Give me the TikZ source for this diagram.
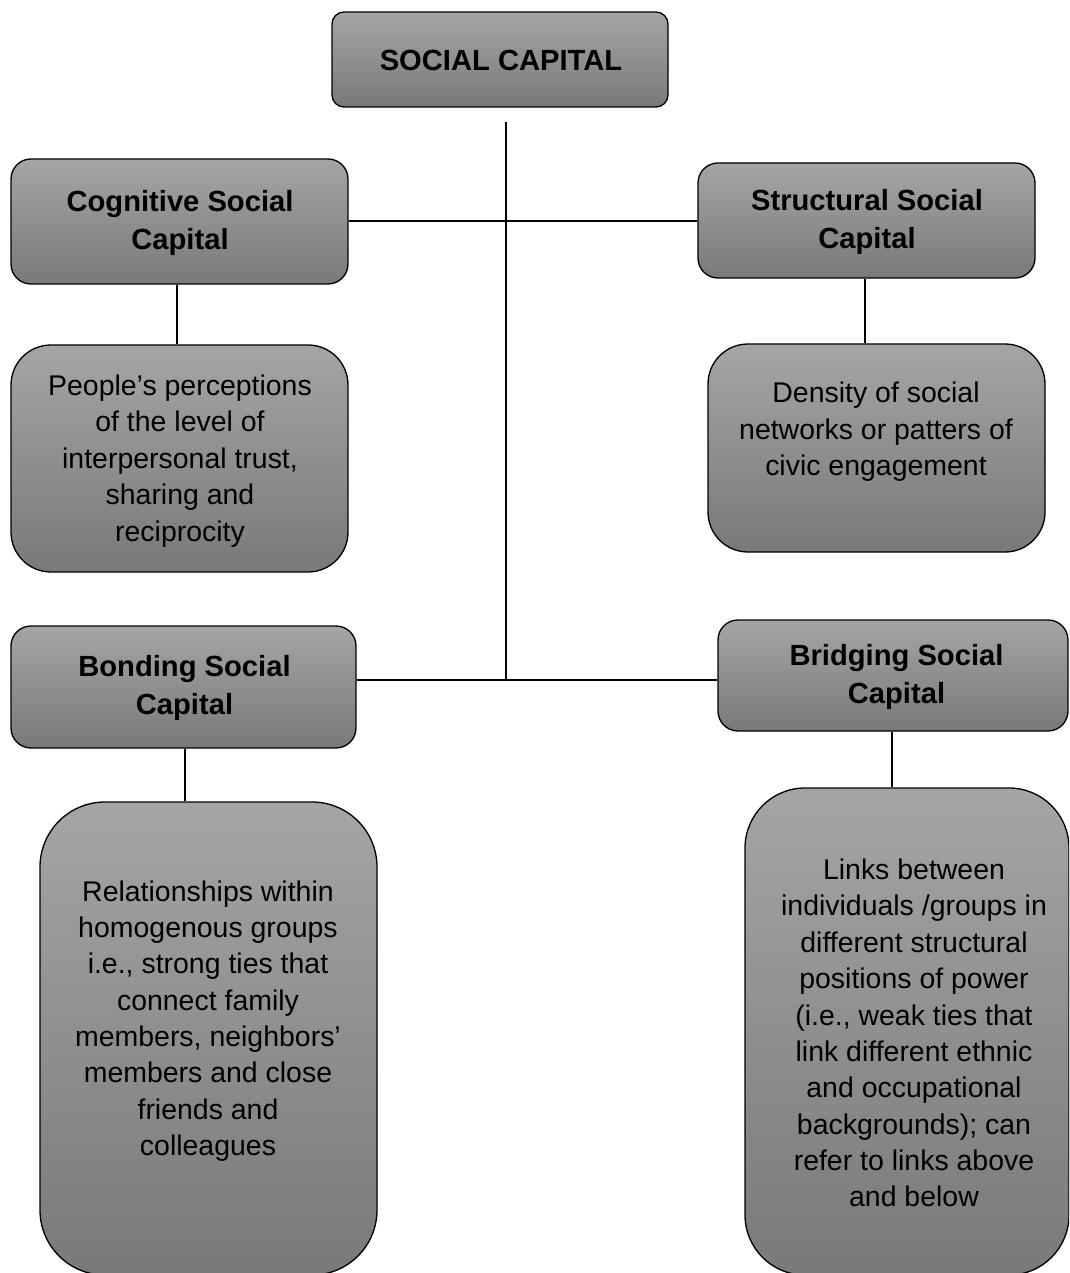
\documentclass[tikz,border=0pt]{standalone}
\usepackage{fontspec}
\setmainfont{Liberation Sans}
\usetikzlibrary{fit}
\definecolor{boxtop}{RGB}{165,165,165}
\definecolor{boxbot}{RGB}{121,121,121}
\tikzset{
  box/.style={draw=black, line width=0.75pt, top color=boxtop, bottom color=boxbot, inner sep=0pt, rectangle},
  headtxt/.style={font=\fontsize{16.6}{22}\selectfont\bfseries, align=center, text=black, inner sep=0pt},
  bodytxt/.style={font=\fontsize{16.2}{20.7}\selectfont, align=center, text=black, inner sep=0pt},
  conn/.style={draw=black, line width=0.75pt}
}
\begin{document}
\begin{tikzpicture}[x=0.02cm, y=-0.02cm]
\useasboundingbox (0,0) rectangle (1069,1273);
\clip (0,0) rectangle (1069,1273);
\fill[white] (0,0) rectangle (1069,1273);

% boxes
\node[box, rounded corners=0.24cm, fit={(332,12) (668,107)}] (sc) {};
\node[box, rounded corners=0.4cm, fit={(11,159) (348,284)}] (cog) {};
\node[box, rounded corners=0.4cm, fit={(698,163) (1035,278)}] (str) {};
\node[box, rounded corners=0.8cm, fit={(11,345) (348,572)}] (perc) {};
\node[box, rounded corners=0.8cm, fit={(708,344) (1045,552)}] (dens) {};
\node[box, rounded corners=0.4cm, fit={(11,626) (356,748)}] (bond) {};
\node[box, rounded corners=0.4cm, fit={(718,620) (1068,731)}] (bridge) {};
\node[box, rounded corners=1.3cm, fit={(40,802) (377,1275)}] (rel) {};
\node[box, rounded corners=1.2cm, fit={(745,788) (1069,1275)}] (links) {};

% texts
\node[headtxt] (scT) at (501,60) {SOCIAL CAPITAL};
\node[headtxt] (cogT) at (180,223) {Cognitive Social\\Capital};
\node[headtxt] (strT) at (867,222) {Structural Social\\Capital};
\node[bodytxt] (percT) at (180,461) {People’s perceptions\\of the level of\\interpersonal trust,\\sharing and\\reciprocity};
\node[bodytxt] (densT) at (876,432) {Density of social\\networks or patters of\\civic engagement};
\node[headtxt] (bondT) at (184.5,688) {Bonding Social\\Capital};
\node[headtxt] (bridgeT) at (896.5,677) {Bridging Social\\Capital};
\node[bodytxt] (relT) at (208,1021) {Relationships within\\homogenous groups\\i.e., strong ties that\\connect family\\members, neighbors’\\members and close\\friends and\\colleagues};
\node[bodytxt] (linksT) at (914,1033) {Links between\\individuals /groups in\\different structural\\positions of power\\(i.e., weak ties that\\link different ethnic\\and occupational\\backgrounds); can\\refer to links above\\and below};

% connectors
\coordinate (top) at (506,122);
\coordinate (j1) at (506,221);
\coordinate (j2) at (506,680);
\draw[conn] (top) -- (j2);
\draw[conn] (cog.east |- j1) -- (str.west |- j1);
\draw[conn] (bond.east |- j2) -- (bridge.west |- j2);
\draw[conn] (cog.south -| 177,0) -- (perc.north -| 177,0);
\draw[conn] (str.south -| 865,0) -- (dens.north -| 865,0);
\draw[conn] (bond.south -| 185,0) -- (rel.north -| 185,0);
\draw[conn] (bridge.south -| 892,0) -- (links.north -| 892,0);
\end{tikzpicture}
\end{document}
